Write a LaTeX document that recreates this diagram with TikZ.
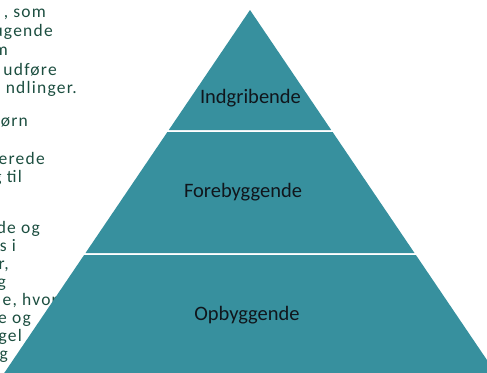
\documentclass[tikz,border=0pt]{standalone}
\usepackage{fontspec}
\setmainfont{Carlito}
\newfontfamily\spacedfont[LetterSpace=7]{Carlito}
\definecolor{pyr}{RGB}{55,144,158}
\definecolor{lefttxt}{RGB}{28,78,64}
\definecolor{lbl}{RGB}{16,22,28}
\begin{document}
\begin{tikzpicture}[x=1pt,y=-1pt,
  cut/.style={anchor=base east,inner sep=0pt,text=lefttxt,font=\spacedfont\fontsize{17.5}{18}\selectfont},
  tier/.style={fill=pyr,draw=none},
  tierlabel/.style={anchor=base,inner sep=0pt,text=lbl,font=\fontsize{20.5}{22}\selectfont}]
\useasboundingbox (0,0) rectangle (487,372);
\clip (0,0) rectangle (487,372);
% cut-off text of the left column
\node[cut] (t1) at (46,17) {, som};
\node[cut] (t2) at (53,36) {ugende};
\node[cut] (t3) at (8,55) {m};
\node[cut] (t4) at (57,75) {udføre};
\node[cut] (t5) at (77,93) {ndlinger.};
\node[cut] (t6) at (28,126) {ørn};
\node[cut] (t7) at (45,164) {erede};
\node[cut] (t8) at (22,182) {g til};
\node[cut] (t9) at (40,233) {de og};
\node[cut] (t10) at (16,251) {s i};
\node[cut] (t11) at (9,269) {r,};
\node[cut] (t12) at (6,287) {g};
\node[cut] (t13) at (58,305) {e, hvor};
\node[cut] (t14) at (31,323) {e og};
\node[cut] (t15) at (22,341) {gel};
\node[cut] (t16) at (8,359) {g};
% pyramid tiers
\fill[tier] (250,10) -- (331.2,130) -- (168.8,130) -- cycle;
\fill[tier] (167.4,132) -- (332.6,132) -- (414.5,253) -- (85.5,253) -- cycle;
\fill[tier] (84.1,255) -- (415.9,255) -- (500.5,380) -- (-0.5,380) -- cycle;
% labels
\node[tierlabel] (l1) at (250.5,103) {Indgribende};
\node[tierlabel] (l2) at (243,197) {Forebyggende};
\node[tierlabel] (l3) at (247,320) {Opbyggende};
\end{tikzpicture}
\end{document}
